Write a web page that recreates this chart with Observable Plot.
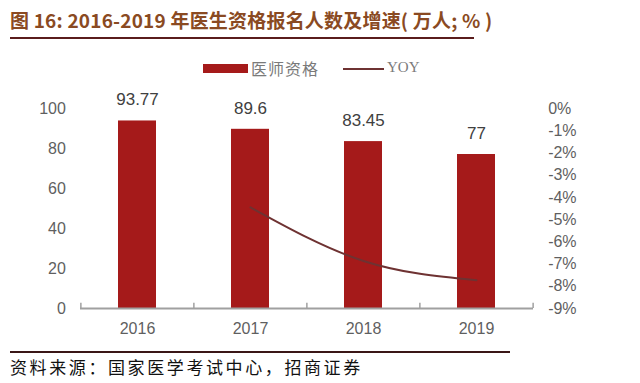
<!DOCTYPE html>
<html><head><meta charset="utf-8">
<script src="https://cdn.jsdelivr.net/npm/d3@7"></script>
<script src="https://cdn.jsdelivr.net/npm/@observablehq/plot@0.6"></script>
<style>
body{margin:0;background:#fff;}
#wrap{position:relative;width:640px;height:383px;overflow:hidden;background:#fff;}
#title{position:absolute;left:10px;top:6px;font:bold 19px "Noto Sans CJK SC","Liberation Sans",sans-serif;color:#8a4a22;white-space:nowrap;letter-spacing:0.2px;}
#tline{position:absolute;left:10px;top:37px;width:464px;height:2px;background:#5a1c1c;}
#legend{position:absolute;left:0;top:58px;font:16px "Noto Sans CJK SC",serif;color:#7a7a7a;}
#foot{position:absolute;left:10px;top:354px;font:17px "Noto Sans CJK SC",sans-serif;color:#111;white-space:nowrap;letter-spacing:2.6px;}
#fline{position:absolute;left:10px;top:351px;width:500px;height:2px;background:#3a1616;}
#plot{position:absolute;left:0;top:0;}
</style></head>
<body><div id="wrap">
<div id="plot"></div>
<div id="title">图 16: 2016-2019 年医生资格报名人数及增速( 万人; % )</div>
<div id="tline"></div>
<div id="legend"></div>
<div id="fline"></div>
<div id="foot">资料来源：国家医学考试中心，招商证券</div>
</div>
<script>
const years = ["2016","2017","2018","2019"];
const applicants = [93.77, 89.6, 83.45, 77];
const yoyYears = ["2017","2018","2019"];
const yoy = [-4.45, -6.86, -7.73];
const leftTicks = [0,20,40,60,80,100];
const rightTicks = [0,-1,-2,-3,-4,-5,-6,-7,-8,-9];
const labels = ["93.77","89.6","83.45","77"];

const barColor = "#a51a1a";
const lineColor = "#6e3232";
const toLeft = d3.scaleLinear().domain([-9,0]).range([0,100]);

const bars = years.map((y,i)=>({year:y, value:applicants[i], label:labels[i]}));
const line = yoyYears.map((y,i)=>({year:y, v:toLeft(yoy[i])}));
const rTicks = rightTicks.map(t=>({p:toLeft(t), t}));

const W = 640, H = 383;
const bandStep = (W-80-107)/years.length;
const chart = Plot.plot({
  width: W, height: H,
  marginTop: 108, marginBottom: 75, marginLeft: 80, marginRight: 107,
  style:{fontFamily:"'Liberation Sans', Arial, sans-serif", fontSize:"16px", color:"#595959", background:"transparent"},
  x:{domain: years, paddingInner: 0.665, paddingOuter: 0.3325, axis: null},
  y:{domain:[0,100], axis:null},
  marks:[
    Plot.barY(bars, {x:"year", y:"value", fill: barColor}),
    Plot.text(bars, {x:"year", y:"value", text:"label", dy:-21, fontSize:17, fill:"#404040"}),
    Plot.line(line, {x:"year", y:"v", stroke: lineColor, strokeWidth:2, curve:"monotone-x"}),
    Plot.ruleY([0], {stroke:"#a0a0a0", strokeWidth:2}),
    Plot.ruleX(years, {x:d=>d, y1:0, y2:2.6, dx:-bandStep/2, stroke:"#a0a0a0", strokeWidth:1.5}),
    Plot.ruleX([years[years.length-1]], {x:d=>d, y1:0, y2:2.6, dx:bandStep/2, stroke:"#a0a0a0", strokeWidth:1.5}),
    Plot.text(years, {x:d=>d, y:0, text:d=>d, dy:20, fontSize:16, fill:"#5f5f5f"}),
    Plot.text(leftTicks, {x:()=>years[0], y:d=>d, text:d=>String(d), textAnchor:"end", dx:-bandStep/2-15, fontSize:16, fill:"#5f5f5f"}),
    Plot.text(rTicks, {x:()=>years[3], y:"p", text:d=>d.t+"%", textAnchor:"start", dx:bandStep/2+15, fontSize:16, fill:"#5f5f5f"})
  ]
});
document.getElementById("plot").appendChild(chart);

const lg = document.getElementById("legend");
lg.innerHTML = `<div style="position:absolute;left:203px;top:6px;width:45px;height:9px;background:${barColor}"></div>
<div style="position:absolute;left:251px;top:-2px;white-space:nowrap;letter-spacing:1px;">医师资格</div>
<div style="position:absolute;left:343px;top:10px;width:41px;height:2px;background:${lineColor}"></div>
<div style="position:absolute;left:387px;top:1px;white-space:nowrap;font-family:'Liberation Serif',serif;font-size:15px;">YOY</div>`;
</script>
</body></html>
